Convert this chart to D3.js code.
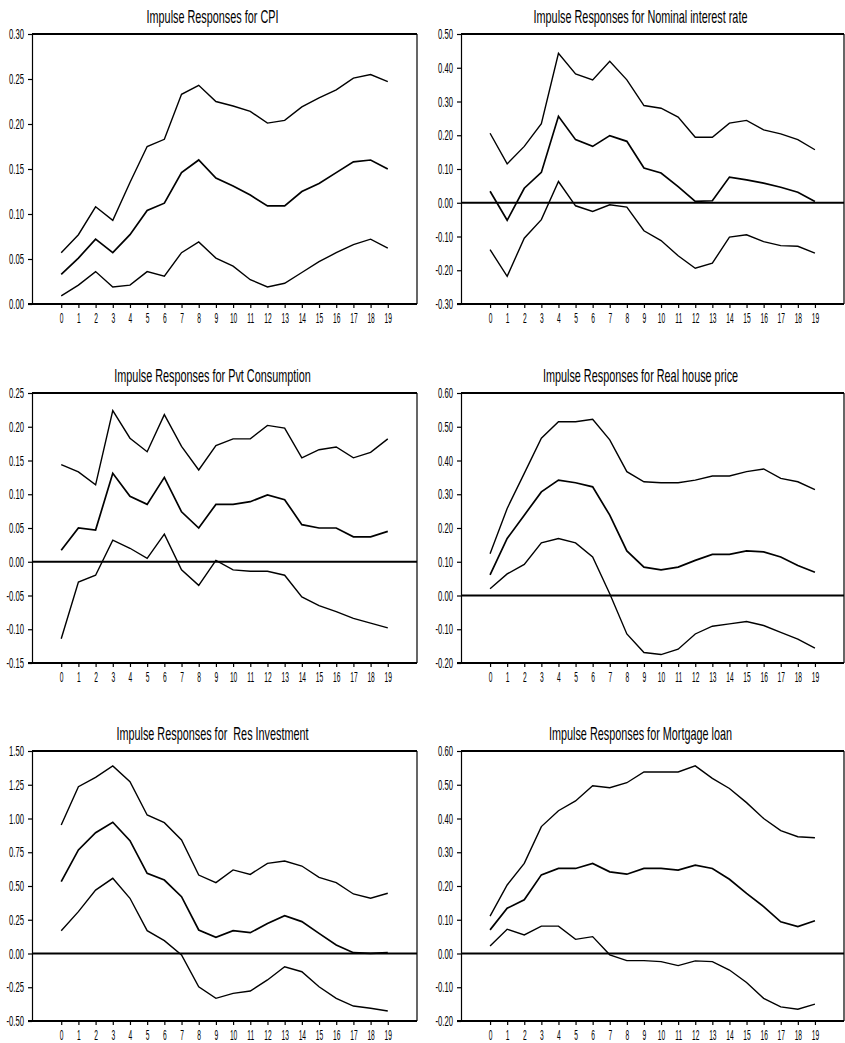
<!DOCTYPE html>
<html>
<head>
<meta charset="utf-8">
<script src="https://cdn.jsdelivr.net/npm/d3@7"></script>
<style>
  body { margin: 0; background: #fff; }
  text { font-family: "Liberation Sans", Arial, sans-serif; fill: #000; }
</style>
</head>
<body>
<div id="chart"></div>
<script>
const horizons = [0, 1, 2, 3, 4, 5, 6, 7, 8, 9, 10, 11, 12, 13, 14, 15, 16, 17, 18, 19];

// CPI
const cpiUpper = [0.057, 0.077, 0.108, 0.093, 0.135, 0.175, 0.183, 0.233, 0.243, 0.225, 0.220, 0.214, 0.201, 0.204, 0.219, 0.229, 0.238, 0.251, 0.255, 0.247];
const cpiMid   = [0.033, 0.051, 0.072, 0.057, 0.077, 0.104, 0.112, 0.146, 0.160, 0.140, 0.131, 0.121, 0.109, 0.109, 0.125, 0.134, 0.146, 0.158, 0.160, 0.150];
const cpiLower = [0.009, 0.021, 0.036, 0.019, 0.021, 0.036, 0.031, 0.057, 0.069, 0.051, 0.042, 0.027, 0.019, 0.023, 0.035, 0.047, 0.057, 0.066, 0.072, 0.062];
const cpiTicks = [0, 0.05, 0.10, 0.15, 0.20, 0.25, 0.30];

// Nominal interest rate
const rateUpper = [0.206, 0.115, 0.167, 0.234, 0.443, 0.382, 0.364, 0.419, 0.364, 0.288, 0.280, 0.254, 0.194, 0.194, 0.236, 0.244, 0.216, 0.204, 0.187, 0.157];
const rateMid   = [0.034, -0.052, 0.043, 0.090, 0.256, 0.187, 0.167, 0.199, 0.182, 0.103, 0.088, 0.048, 0.004, 0.006, 0.076, 0.068, 0.058, 0.046, 0.031, 0.004];
const rateLower = [-0.139, -0.218, -0.105, -0.050, 0.063, -0.009, -0.026, -0.006, -0.013, -0.083, -0.112, -0.157, -0.194, -0.179, -0.102, -0.095, -0.115, -0.127, -0.129, -0.149];
const rateTicks = [-0.30, -0.20, -0.10, 0, 0.10, 0.20, 0.30, 0.40, 0.50];

// Pvt Consumption
const consUpper = [0.144, 0.133, 0.114, 0.224, 0.183, 0.163, 0.218, 0.171, 0.136, 0.172, 0.182, 0.182, 0.202, 0.198, 0.154, 0.166, 0.170, 0.154, 0.162, 0.182];
const consMid   = [0.017, 0.050, 0.047, 0.131, 0.097, 0.085, 0.125, 0.074, 0.050, 0.085, 0.085, 0.089, 0.099, 0.092, 0.055, 0.050, 0.050, 0.037, 0.037, 0.045];
const consLower = [-0.114, -0.030, -0.020, 0.032, 0.020, 0.005, 0.041, -0.012, -0.035, 0.002, -0.012, -0.014, -0.014, -0.020, -0.052, -0.065, -0.074, -0.084, -0.091, -0.098];
const consTicks = [-0.15, -0.10, -0.05, 0, 0.05, 0.10, 0.15, 0.20, 0.25];

// Real house price
const houseUpper = [0.124, 0.258, 0.362, 0.466, 0.515, 0.515, 0.522, 0.461, 0.367, 0.337, 0.334, 0.334, 0.342, 0.354, 0.354, 0.367, 0.375, 0.347, 0.337, 0.314];
const houseMid   = [0.061, 0.169, 0.238, 0.307, 0.342, 0.334, 0.322, 0.238, 0.132, 0.084, 0.076, 0.084, 0.104, 0.122, 0.122, 0.132, 0.129, 0.114, 0.089, 0.069];
const houseLower = [0.020, 0.064, 0.092, 0.156, 0.169, 0.156, 0.114, 0.005, -0.114, -0.169, -0.175, -0.159, -0.114, -0.091, -0.084, -0.077, -0.089, -0.109, -0.129, -0.156];
const houseTicks = [-0.20, -0.10, 0, 0.10, 0.20, 0.30, 0.40, 0.50, 0.60];

// Res Investment
const invUpper = [0.952, 1.236, 1.305, 1.389, 1.273, 1.026, 0.969, 0.841, 0.581, 0.525, 0.619, 0.586, 0.668, 0.685, 0.648, 0.564, 0.525, 0.441, 0.409, 0.446];
const invMid   = [0.532, 0.767, 0.895, 0.972, 0.836, 0.594, 0.544, 0.421, 0.174, 0.120, 0.169, 0.154, 0.223, 0.280, 0.236, 0.149, 0.063, 0.006, 0.001, 0.006];
const invLower = [0.169, 0.310, 0.470, 0.557, 0.409, 0.169, 0.095, -0.011, -0.246, -0.332, -0.295, -0.278, -0.196, -0.098, -0.135, -0.246, -0.332, -0.389, -0.406, -0.426];
const invTicks = [-0.50, -0.25, 0, 0.25, 0.50, 0.75, 1.00, 1.25, 1.50];

// Mortgage loan
const loanUpper = [0.111, 0.203, 0.267, 0.376, 0.423, 0.452, 0.497, 0.491, 0.506, 0.538, 0.538, 0.538, 0.556, 0.519, 0.489, 0.447, 0.400, 0.364, 0.346, 0.343];
const loanMid   = [0.070, 0.134, 0.159, 0.233, 0.252, 0.252, 0.267, 0.242, 0.235, 0.252, 0.252, 0.247, 0.262, 0.252, 0.220, 0.178, 0.139, 0.094, 0.080, 0.097];
const loanLower = [0.022, 0.072, 0.055, 0.081, 0.081, 0.042, 0.050, -0.004, -0.021, -0.021, -0.024, -0.036, -0.022, -0.024, -0.049, -0.086, -0.133, -0.158, -0.165, -0.150];
const loanTicks = [-0.20, -0.10, 0, 0.10, 0.20, 0.30, 0.40, 0.50, 0.60];

const panels = [
  { title: "Impulse Responses for CPI", ticks: cpiTicks, lines: [cpiUpper, cpiMid, cpiLower] },
  { title: "Impulse Responses for Nominal interest rate", ticks: rateTicks, lines: [rateUpper, rateMid, rateLower] },
  { title: "Impulse Responses for Pvt Consumption", ticks: consTicks, lines: [consUpper, consMid, consLower] },
  { title: "Impulse Responses for Real house price", ticks: houseTicks, lines: [houseUpper, houseMid, houseLower] },
  { title: "Impulse Responses for  Res Investment", ticks: invTicks, lines: [invUpper, invMid, invLower] },
  { title: "Impulse Responses for Mortgage loan", ticks: loanTicks, lines: [loanUpper, loanMid, loanLower] },
];

const W = 845, H = 1043;
const cols = [{ x: 32, w: 385 }, { x: 461, w: 383 }];
const rows = [34, 393, 751];
const ph = 270;

const locale = d3.formatLocale({ decimal: ".", thousands: ",", grouping: [3], currency: ["$", ""], minus: "-" });
const fmt = locale.format(".2f");

// squeeze text horizontally (the original font is very narrow)
function condense(sel, k) {
  sel.each(function () {
    const t = d3.select(this);
    const x0 = +t.attr("x") || 0;
    t.attr("x", x0 / k).attr("transform", `scale(${k},1)`);
  });
}

const svg = d3.select("#chart")
  .append("svg")
  .attr("width", W)
  .attr("height", H);

svg.append("rect").attr("width", W).attr("height", H).attr("fill", "#fff");

panels.forEach((p, i) => {
  const c = cols[i % 2];
  const top = rows[Math.floor(i / 2)];
  const w = c.w;

  const x = d3.scaleLinear([-1.7, 20.7], [0, w]);
  const y = d3.scaleLinear([p.ticks[0], p.ticks[p.ticks.length - 1]], [ph, 0]);

  const g = svg.append("g").attr("transform", `translate(${c.x},${top})`);

  // frame top + right
  g.append("line")
    .attr("x1", 0).attr("x2", w).attr("y1", 0).attr("y2", 0)
    .attr("stroke", "#000").attr("stroke-width", 2);
  g.append("line")
    .attr("x1", w).attr("x2", w).attr("y1", 0).attr("y2", ph)
    .attr("stroke", "#000").attr("stroke-width", 1.2);

  const yAxis = g.append("g")
    .call(d3.axisLeft(y).tickValues(p.ticks).tickFormat(fmt).tickSize(4).tickPadding(4).tickSizeOuter(0));
  yAxis.select(".domain").attr("stroke-width", 1.2);
  yAxis.selectAll("line").attr("stroke-width", 1.2);
  yAxis.selectAll("text").attr("font-size", 14.5).attr("font-family", null);
  condense(yAxis.selectAll("text"), 0.53);

  const xAxis = g.append("g")
    .attr("transform", `translate(0,${ph})`)
    .call(d3.axisBottom(x).tickValues(horizons).tickSize(4).tickPadding(5).tickSizeOuter(0));
  xAxis.select(".domain").attr("stroke-width", 2).attr("d", `M-4,0H${w}`);
  xAxis.selectAll("line").attr("stroke-width", 1.2);
  xAxis.selectAll("text").attr("font-size", 14.5).attr("font-family", null);
  condense(xAxis.selectAll("text"), 0.46);

  if (p.ticks[0] < 0) {
    g.append("line")
      .attr("x1", 0).attr("x2", w)
      .attr("y1", y(0)).attr("y2", y(0))
      .attr("stroke", "#000").attr("stroke-width", 1.8);
  }

  const line = d3.line()
    .x((d, j) => x(horizons[j]))
    .y(d => y(d));

  g.selectAll(".irf")
    .data(p.lines)
    .join("path")
    .attr("class", "irf")
    .attr("d", line)
    .attr("fill", "none")
    .attr("stroke", "#000")
    .attr("stroke-width", (d, j) => (j === 1 ? 1.7 : 1.4));

  g.append("g")
    .attr("transform", `translate(${w / 2 - 12},-11.5)`)
    .append("text")
    .attr("text-anchor", "middle")
    .attr("font-size", 17.5)
    .attr("transform", "scale(0.62,1)")
    .style("white-space", "pre")
    .text(p.title);
});
</script>
</body>
</html>
